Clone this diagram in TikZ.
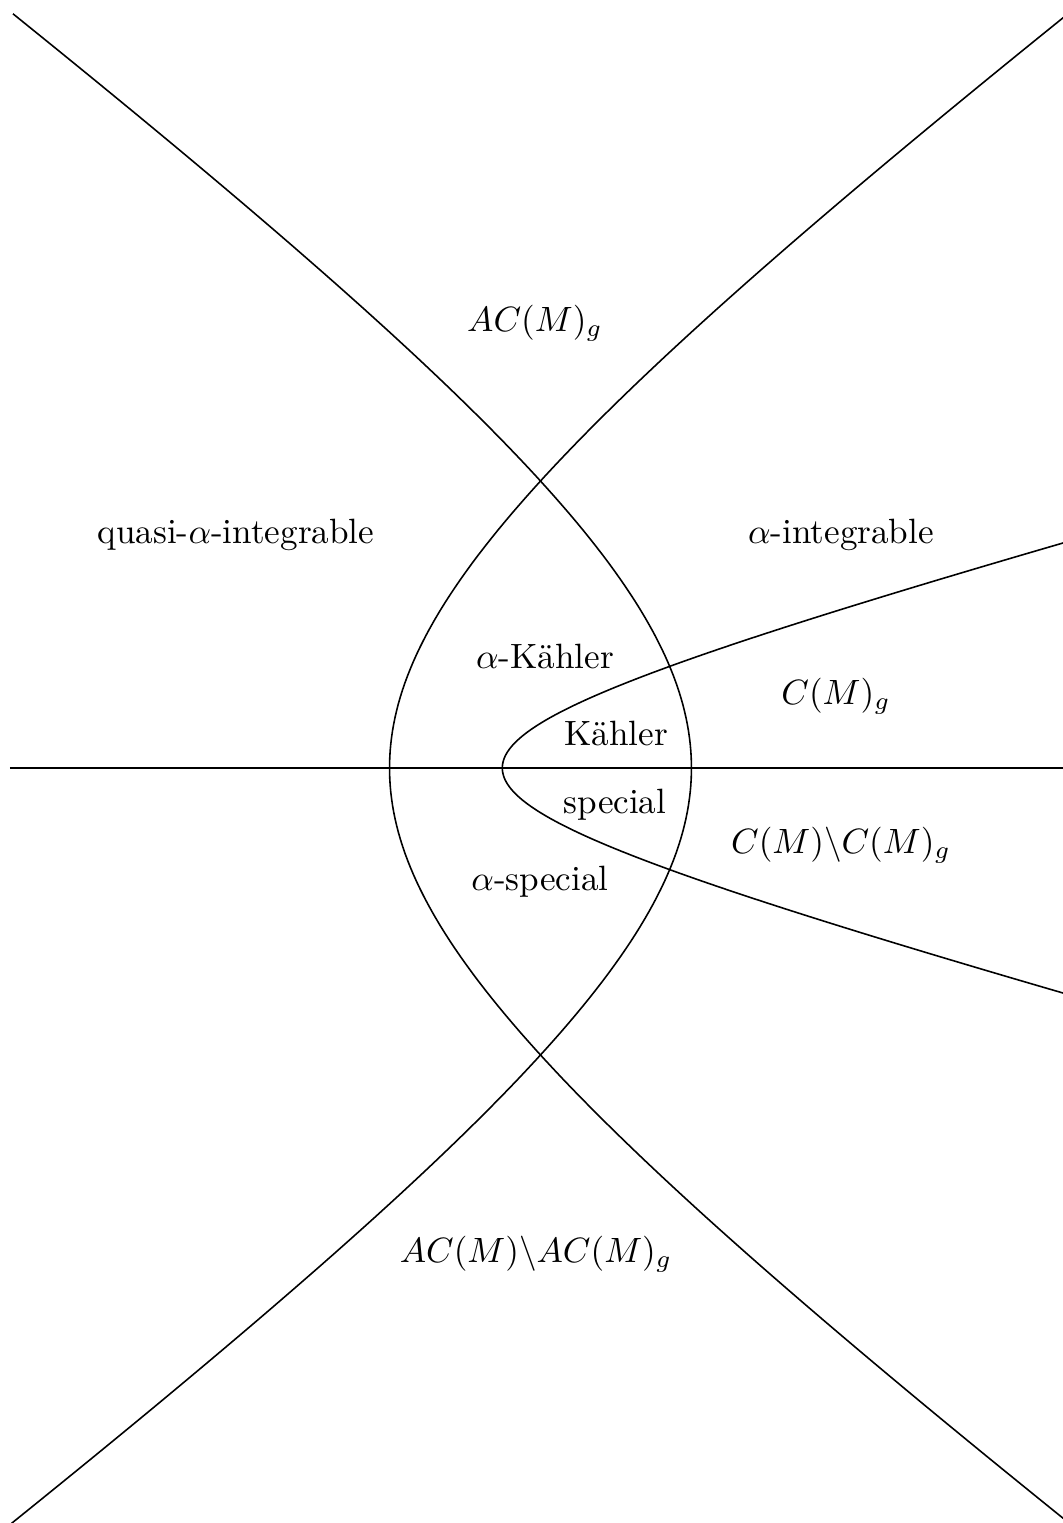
\documentclass[tikz,border=0pt]{standalone}
\usepackage{tikz}

\tikzset{
  curve/.style={line width=0.45pt},
  region/.style={anchor=base, inner sep=0pt},
}

\begin{document}
\begin{tikzpicture}
\clip (-5.405,-7.550) rectangle (5.225,7.680);
\draw[curve] (-5.305,0) -- (5.305,0);
\draw[curve] plot[domain=-1.624:1.624, samples=150, variable=\t] ({-5.668+4.158*cosh(\t)}, {3.098*sinh(\t)});
\draw[curve] plot[domain=-1.624:1.624, samples=150, variable=\t] ({5.668-4.158*cosh(\t)}, {3.098*sinh(\t)});
\draw[curve] plot[domain=-1.750:1.750, samples=150, variable=\t] ({-3.791+3.409*cosh(\t)}, {0.919*sinh(\t)});
\node[region] (acg) at (-0.055,4.370) {$AC(M)_g$};
\node[region] (quasi) at (-3.045,2.250) {quasi-$\alpha$-integrable};
\node[region] (aint) at (3.005,2.250) {$\alpha$-integrable};
\node[region] (akahler) at (0.045,1.000) {$\alpha$-Kähler};
\node[region] (cg) at (2.955,0.640) {$C(M)_g$};
\node[region] (kahler) at (0.755,0.230) {Kähler};
\node[region] (special) at (0.745,-0.450) {special};
\node[region] (cdiff) at (3.005,-0.850) {$C(M)\backslash C(M)_g$};
\node[region] (aspecial) at (-0.005,-1.220) {$\alpha$-special};
\node[region] (acdiff) at (-0.045,-4.940) {$AC(M)\backslash AC(M)_g$};
\end{tikzpicture}
\end{document}
